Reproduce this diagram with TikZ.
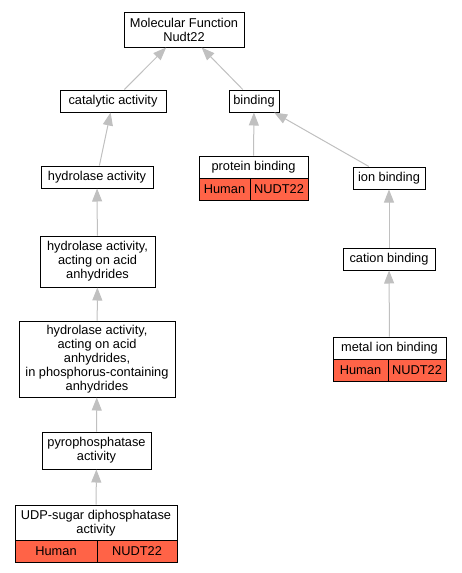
\documentclass[tikz,border=0pt]{standalone}
\usepackage{fontspec}
\setmainfont{Liberation Sans}
\usetikzlibrary{arrows.meta}
\definecolor{tomatocell}{RGB}{255,99,71}
\definecolor{edgegray}{RGB}{192,192,192}

\begin{document}
\begin{tikzpicture}[x=1pt, y=-1pt,
  every node/.style = {font=\fontsize{12.8}{14}\selectfont},
  term/.style = {rectangle, draw=black, fill=white, line width=1pt,
                 inner sep=0pt, align=center},
  cell/.style = {rectangle, draw=black, fill=tomatocell, line width=1pt,
                 inner sep=0pt, minimum height=22pt},
  arr/.style  = {-{Triangle[length=13pt, width=10pt]}, edgegray, line width=1pt},
]
\useasboundingbox (0,0) rectangle (461,573);

%% ══ ROOT ═════════════════════════════════════════════════════════════════
\node[term, minimum width=120pt, minimum height=35pt] at (184, 29.5) (mf)
  {Molecular Function\\Nudt22};

%% ══ LEFT BRANCH: catalytic activity ... UDP-sugar ═══════════════════════
\node[term, minimum width=106pt, minimum height=22pt] at (113, 101) (cat)
  {catalytic activity};
\node[term, minimum width=112pt, minimum height=22pt] at (97, 177) (hyd)
  {hydrolase activity};
\node[term, minimum width=115pt, minimum height=51pt] at (97.5, 261.5) (hydacid)
  {hydrolase activity,\\acting on acid\\anhydrides};
\node[term, minimum width=156pt, minimum height=76pt] at (97, 359) (hydphos)
  {hydrolase activity,\\acting on acid\\anhydrides,\\in phosphorus-containing\\anhydrides};
\node[term, minimum width=109pt, minimum height=37pt] at (96.5, 450.5) (pyro)
  {pyrophosphatase\\activity};
\node[term, minimum width=162pt, minimum height=36pt] at (96, 523) (udp)
  {UDP-sugar diphosphatase\\activity};
\node[cell, minimum width=82pt] at (56, 551.5) (udphuman) {Human};
\node[cell, minimum width=80pt] at (137, 551.5) (udpgene) {NUDT22};

%% ══ RIGHT BRANCH: binding ... metal ion binding ═════════════════════════
\node[term, minimum width=50pt, minimum height=22pt] at (254, 101) (bind)
  {binding};
\node[term, minimum width=109pt, minimum height=22pt] at (253.5, 167) (prot)
  {protein binding};
\node[cell, minimum width=51pt] at (224.5, 189) (prothuman) {Human};
\node[cell, minimum width=58pt] at (279, 189) (protgene) {NUDT22};
\node[term, minimum width=72pt, minimum height=22pt] at (389, 178) (ion)
  {ion binding};
\node[term, minimum width=92pt, minimum height=22pt] at (389, 259) (cation)
  {cation binding};
\node[term, minimum width=113pt, minimum height=22pt] at (389.5, 348) (metal)
  {metal ion binding};
\node[cell, minimum width=55pt] at (360.5, 370) (metalhuman) {Human};
\node[cell, minimum width=58pt] at (417, 370) (metalgene) {NUDT22};

%% ── is_a edges, child → parent ───────────────────────────────────────────
\draw[arr] (cat)     -- (mf);
\draw[arr] (bind)    -- (mf);
\draw[arr] (hyd)     -- (cat);
\draw[arr] (hydacid) -- (hyd);
\draw[arr] (hydphos) -- (hydacid);
\draw[arr] (pyro)    -- (hydphos);
\draw[arr] (udp)     -- (pyro);
\draw[arr] (prot)    -- (bind);
\draw[arr] (ion)     -- (bind);
\draw[arr] (cation)  -- (ion);
\draw[arr] (metal)   -- (cation);

\end{tikzpicture}
\end{document}
